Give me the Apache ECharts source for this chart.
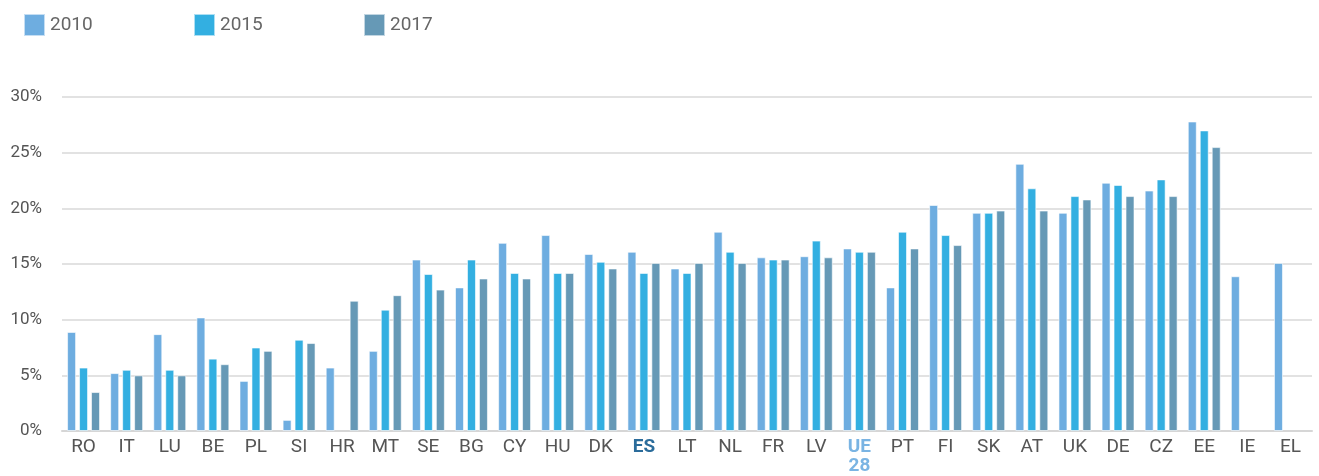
<!DOCTYPE html>
<html>
<head>
<meta charset="utf-8">
<script src="https://cdn.jsdelivr.net/npm/echarts@6/dist/echarts.min.js"></script>
<style>html,body{margin:0;padding:0;background:#fff}#c{width:1319px;height:476px}</style>
</head>
<body>
<div id="c"></div>
<script>
const categories = ['RO','IT','LU','BE','PL','SI','HR','MT','SE','BG','CY','HU','DK','ES','LT','NL','FR','LV','UE 28','PT','FI','SK','AT','UK','DE','CZ','EE','IE','EL'];
const seriesNames = ['2010','2015','2017'];
const values2010 = [8.9,5.2,8.7,10.2,4.5,1.0,5.7,7.2,15.4,12.9,16.9,17.6,15.9,16.1,14.6,17.9,15.6,15.7,16.4,12.9,20.3,19.6,24.0,19.6,22.3,21.6,27.8,13.9,15.1];
const values2015 = [5.7,5.5,5.5,6.5,7.5,8.2,null,10.9,14.1,15.4,14.2,14.2,15.2,14.2,14.2,16.1,15.4,17.1,16.1,17.9,17.6,19.6,21.8,21.1,22.1,22.6,27.0,null,null];
const values2017 = [3.5,5.0,5.0,6.0,7.2,7.9,11.7,12.2,12.7,13.7,13.7,14.2,14.6,15.1,15.1,15.1,15.4,15.6,16.1,16.4,16.7,19.8,19.8,20.8,21.1,21.1,25.5,null,null];
const yTicks = [0,5,10,15,20,25,30];

const colors = ['#6eade0','#33afe1','#6699b6'];
const chart = echarts.init(document.getElementById('c'), null, {renderer:'canvas'});
const font = 'Roboto, "Liberation Sans", Arial, sans-serif';
const dataSets = [values2010, values2015, values2017];
const legendLeft = [23, 193, 363];

chart.setOption({
  animation:false,
  textStyle:{fontFamily:font},
  color: colors,
  legend: seriesNames.map((n,i)=>({
    data:[n], left:legendLeft[i], top:8, padding:[5,5,5,0], itemWidth:21, itemHeight:22, itemGap:7,
    icon:'rect', textStyle:{fontSize:19, color:'#666', fontFamily:font}, selectedMode:false
  })),
  grid:{left:62, right:7, top:97, bottom:44, containLabel:false},
  xAxis:{
    type:'category', data:categories,
    axisLine:{lineStyle:{color:'#d6d6d6', width:2}},
    axisTick:{show:false},
    axisLabel:{
      interval:0, margin:7, fontSize:19, color:'#555', lineHeight:19,
      formatter:function(v){
        if(v==='ES') return '{es|ES}';
        if(v==='UE 28') return '{ue|UE}\n{ue|28}';
        return v;
      },
      rich:{
        es:{fontWeight:'bold', color:'#2b6c9b', fontSize:19, lineHeight:19},
        ue:{fontWeight:'bold', color:'#7ab4e3', fontSize:19, lineHeight:19}
      },
      verticalAlign:'top'
    }
  },
  yAxis:{
    type:'value', min:0, max:30, interval:5,
    axisLine:{show:false}, axisTick:{show:false},
    splitLine:{lineStyle:{color:'#d9d9d9', width:1.5}},
    axisLabel:{formatter:function(v){return yTicks.includes(v)? v+'%':'';}, fontSize:17, color:'#555', margin:20}
  },
  series: seriesNames.map((n,i)=>({
    name:n, type:'bar', data:dataSets[i], barWidth:9, barGap:'33%',
    itemStyle:{color:colors[i], borderColor:'rgba(255,255,255,0.6)', borderWidth:1}
  }))
});
</script>
</body>
</html>
